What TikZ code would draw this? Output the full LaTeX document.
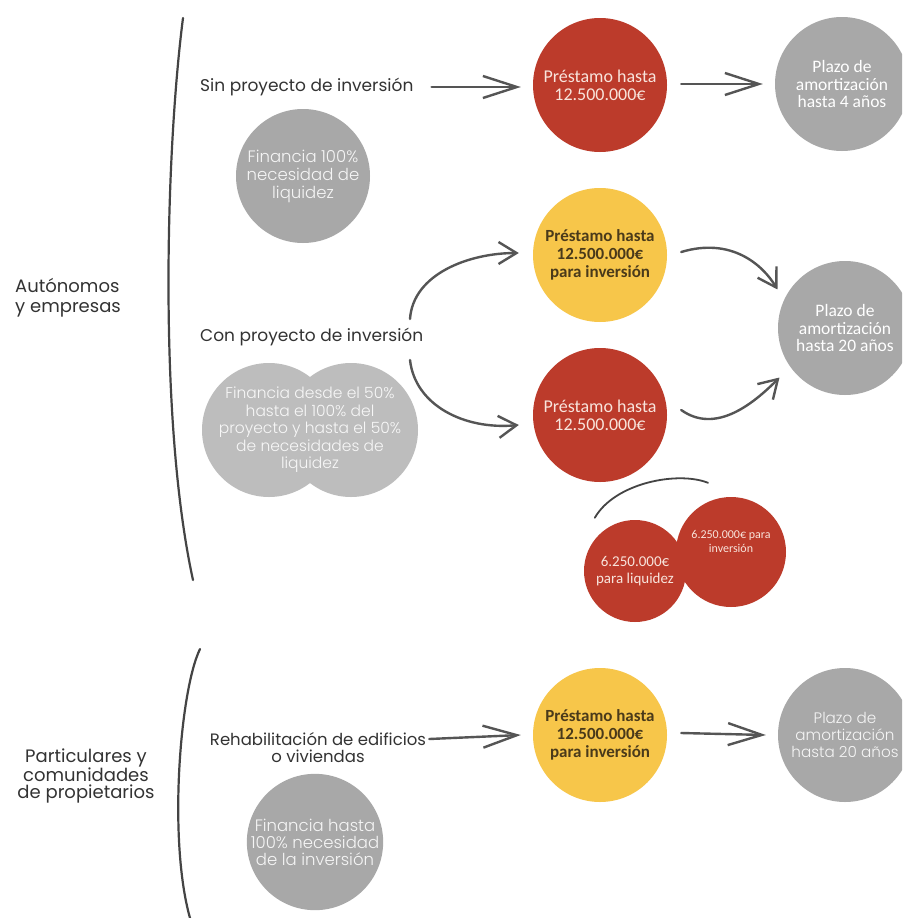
\documentclass[tikz,border=0pt]{standalone}
\usepackage{fontspec}
\setmainfont{Poppins}
\newfontfamily\carl{Carlito}
\newfontfamily\plight{Poppins Light}
\usetikzlibrary{arrows.meta,calc}
\definecolor{cred}{HTML}{BC3B2B}
\definecolor{cyel}{HTML}{F7C64A}
\definecolor{cgray}{HTML}{A8A8A8}
\definecolor{clgray}{HTML}{BDBDBD}
\definecolor{ctext}{HTML}{333333}
\definecolor{carrow}{HTML}{555555}
\definecolor{cyeltext}{HTML}{4A3A1A}
\definecolor{cpink}{HTML}{F8E4DC}
\definecolor{cline}{HTML}{444444}
\begin{document}
\begin{tikzpicture}[x=1pt,y=-1pt,
  lbl/.style={font=\fontsize{17}{18}\selectfont, text=ctext, inner sep=0pt, align=center},
  disc/.style={circle, inner sep=0pt, minimum size=134pt, align=center},
  reddisc/.style={disc, fill=cred, text=cpink, font=\carl\fontsize{18}{18}\selectfont},
  yeldisc/.style={disc, fill=cyel, text=cyeltext, font=\carl\bfseries\fontsize{17}{18}\selectfont},
  graydisc/.style={disc, fill=cgray, text=white, font=\carl\fontsize{17.5}{17.5}\selectfont},
  graydiscp/.style={disc, fill=cgray, text=white!92!gray, font=\plight\fontsize{16.5}{18}\selectfont},
  lgdisc/.style={disc, fill=clgray},
  smalldisc/.style={circle, inner sep=0pt, fill=cred, text=cpink, align=center},
  arr/.style={draw=carrow, line width=2.4pt, line cap=round, line join=round,
    -{Straight Barb[length=34pt,width=22pt,line width=2.4pt]}},
  carr/.style={draw=carrow, line width=2.4pt, line cap=round, line join=round,
    -{Straight Barb[length=18pt,width=22pt,line width=2.4pt]}},
  brk/.style={draw=cline, line width=2.2pt, line cap=round}
]
\clip (0,0) rectangle (902,918);
\fill[white] (0,0) rectangle (902,918);

% brackets
\draw[brk] (183,18) .. controls (166,150) and (158,420) .. (193,580);
\draw[brk] (200,649) .. controls (180,690) and (168,840) .. (190,918);

% group labels
\node[lbl, align=left, anchor=west, font=\fontsize{18}{20}\selectfont] (aut) at (15,298) {Autónomos\\y empresas};
\node[lbl, font=\fontsize{18}{17}\selectfont] (par) at (86,776) {Particulares y\\comunidades\\de propietarios};

% row 1
\node[lbl, anchor=west] (sin) at (200,87) {Sin proyecto de inversión};
\node[reddisc] (r1) at (600,85) {Préstamo hasta\\12.500.000€};
\node[graydisc] (g1) at (842,84) {Plazo de\\amortización\\hasta 4 años};
\node[graydiscp] (f1) at (303,176) {Financia 100\%\\necesidad de\\liquidez};
\draw[arr] ([xshift=18pt]sin.east) -- ([xshift=-12pt]sin.east -| r1.west);
\draw[arr] ([xshift=14pt,yshift=1pt]r1.east) -- ([xshift=-12pt]g1.west);

% row 2
\node[lbl, anchor=west] (con) at (200,337) {Con proyecto de inversión};
\node[yeldisc] (y1) at (600,255) {Préstamo hasta\\12.500.000€\\para inversión};
\node[reddisc] (r2) at (600,415) {Préstamo hasta\\12.500.000€};
\node[graydisc] (g2) at (845,328) {Plazo de\\amortización\\hasta 20 años};
\node[lgdisc] (d1) at (269,430) {};
\node[lgdisc] (d2) at (351,430) {};
\node[text=white!94!gray, align=center, inner sep=0pt, font=\plight\fontsize{15.5}{17.5}\selectfont] (dt) at ($(d1)!0.5!(d2)$) {Financia desde el 50\%\\hasta el 100\% del\\proyecto y hasta el 50\%\\de necesidades de\\liquidez};

\draw[carr] (410,319) .. controls +(3,-45) and +(-50,0) .. ($(y1.west)+(-14,-2)$);
\draw[carr] (410,360) .. controls +(5,45) and +(-55,5) .. ($(r2.west)+(-14,10)$);
\draw[carr] ($(y1.east)+(14,-3)$) .. controls +(50,-15) and +(-15,-25) .. ($(g2.north west)+(-20,9)$);
\draw[carr] ($(r2.east)+(14,-5)$) .. controls +(35,25) and +(-25,25) .. ($(g2.south west)+(-18,2)$);

% split circles
\node[smalldisc, minimum size=102pt, font=\carl\fontsize{15}{17}\selectfont] (s1) at (635,571) {6.250.000€\\para liquidez};
\node[smalldisc, minimum size=110pt, font=\carl\fontsize{12}{13.5}\selectfont] (s2) at (731,552) {6.250.000€ para\\inversión\\[8pt]};
\draw[draw=cline, line width=1.8pt, line cap=round] ($(s1.north west)+(-4,-17)$) .. controls +(20,-35) and +(-30,-12) .. ($(s2.north)+(-23,-14)$);

% row 3
\node[lbl, font=\fontsize{16.5}{17}\selectfont] (reh) at (318,748) {Rehabilitación de edificios\\o viviendas};
\node[yeldisc] (y2) at (600,735) {Préstamo hasta\\12.500.000€\\para inversión};
\node[graydiscp, font=\plight\fontsize{15.2}{17}\selectfont] (g3) at (845,735) {Plazo de\\amortización\\hasta 20 años};
\node[graydiscp, minimum size=126pt, font=\plight\fontsize{16.5}{17}\selectfont] (f3) at (315,842) {Financia hasta\\100\% necesidad\\de la inversión};
\draw[arr] ($(reh.east)+(3,-9)$) -- ([xshift=-12pt]y2.west);
\draw[arr] ([xshift=14pt,yshift=2pt]y2.east) -- ([xshift=-12pt]g3.west);
\end{tikzpicture}
\end{document}
